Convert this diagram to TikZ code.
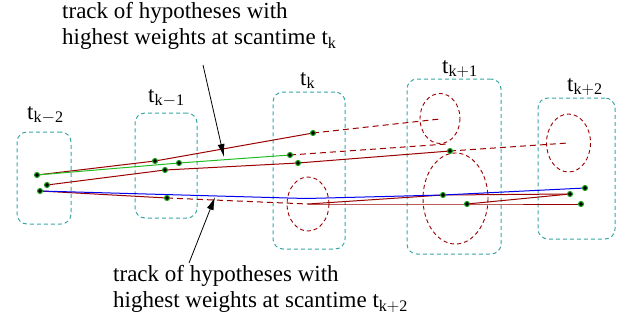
\documentclass[tikz,border=0pt]{standalone}
\usepackage{fontspec}
\setmainfont{Liberation Serif}
\usetikzlibrary{arrows.meta,positioning}
\definecolor{frame}{HTML}{3AA6A6}
\definecolor{hyp}{HTML}{9A0000}
\definecolor{best}{HTML}{22BB22}
\definecolor{bestlate}{HTML}{0000F0}
\definecolor{dotc}{HTML}{1FA01F}

\begin{document}
\begin{tikzpicture}[x=1pt,y=-1pt,>={Latex[length=13pt,width=7pt]},font=\fontsize{23}{26}\selectfont,
  scan/.style 2 args={draw=frame,line width=1pt,dash pattern=on 4pt off 3pt,rounded corners=10pt,minimum width=#1,minimum height=#2,inner sep=0},
  tlab/.style={font=\fontsize{23}{23}\selectfont,inner sep=0,anchor=base west},
  gate/.style={hyp,line width=.9pt,dash pattern=on 4pt off 3pt},
  trk/.style={hyp,line width=1pt},
  predict/.style={trk,dash pattern=on 6pt off 4pt},
  hypdot/.style={circle,fill=black,draw=dotc,line width=1.1pt,inner sep=0,minimum size=5pt},
  note/.style={align=left,inner sep=0,anchor=north west}]
\useasboundingbox (0,0) rectangle (631,322);
% scan times
\node[scan={54}{92}] (tkm2) at (44,178) {};
\node[scan={62}{105}] (tkm1) at (166,165.5) {};
\node[scan={72}{157}] (tk) at (309,170.5) {};
\node[scan={94}{175}] (tkp1) at (454,166.5) {};
\node[scan={77}{141}] (tkp2) at (576.5,168.5) {};
\node[tlab] (ltkm2) at (27,119) {$\mathrm{t}_{\mathrm{k-2}}$};
\node[tlab] (ltkm1) at (148,102) {$\mathrm{t}_{\mathrm{k-1}}$};
\node[tlab] (ltk) at (300,85) {$\mathrm{t}_{\mathrm{k}}$};
\node[tlab] (ltkp1) at (442,73) {$\mathrm{t}_{\mathrm{k+1}}$};
\node[tlab] (ltkp2) at (567,91) {$\mathrm{t}_{\mathrm{k+2}}$};
% gates
\draw[gate] (308,204) ellipse (21 and 27);
\draw[gate] (440,118.5) ellipse (20 and 25);
\draw[gate] (455.5,198.5) ellipse (32.5 and 45.5);
\draw[gate] (568.5,143) ellipse (22 and 29);
% hypotheses
\coordinate (a1) at (37,175);  \coordinate (a2) at (47,185);  \coordinate (a3) at (40,191);
\coordinate (b1) at (155,161); \coordinate (b2) at (179,163); \coordinate (b3) at (165,170); \coordinate (b4) at (167,198);
\coordinate (c1) at (313,133); \coordinate (c2) at (290,155); \coordinate (c3) at (298,163);
\coordinate (d1) at (450,151); \coordinate (d2) at (443,195); \coordinate (d3) at (467,204);
\coordinate (e1) at (585,188); \coordinate (e2) at (570,194); \coordinate (e3) at (581,204);
\coordinate (g0) at (308,204); \coordinate (g1) at (440,119); \coordinate (g2) at (447,144); \coordinate (g3) at (568,143);
\coordinate (w) at (306,198.5);
% tracks
\draw[trk] (a1) -- (b1) -- (c1);
\draw[predict] (c1) -- (g1);
\draw[trk] (a2) -- (b3) -- (c3) -- (d1);
\draw[predict] (c2) -- (g2);
\draw[predict] (d1) -- (g3);
\draw[trk] (a3) -- (b4);
\draw[predict] (b4) -- (g0);
\draw[trk] (g0) -- (d2) -- (e2);
\draw[trk] (g0) -- (d3) -- (e3);
\draw[trk] (d3) -- (e2);
\draw[best,line width=1pt] (a1) -- (b2) -- (c2);
\draw[bestlate,line width=1pt] (a3) -- (w) -- (d2) -- (e1);
\foreach \p in {a1,a2,a3,b1,b2,b3,b4,c1,c2,c3,d1,d2,d3,e1,e2,e3}
  \node[hypdot] (\p-dot) at (\p) {};
% notes
\node[note] (topnote) at (62,2) {track of hypotheses with\\highest weights at scantime $\mathrm{t}_{\mathrm{k}}$};
\node[note] (botnote) at (113,265) {track of hypotheses with\\highest weights at scantime $\mathrm{t}_{\mathrm{k+2}}$};
\coordinate (topfrom) at (203,65); \coordinate (topto) at (224,157);
\coordinate (botfrom) at (189,263); \coordinate (botto) at (215,197);
\draw[->,line width=.8pt] (topfrom) -- (topto);
\draw[->,line width=.8pt] (botfrom) -- (botto);
\end{tikzpicture}
\end{document}
